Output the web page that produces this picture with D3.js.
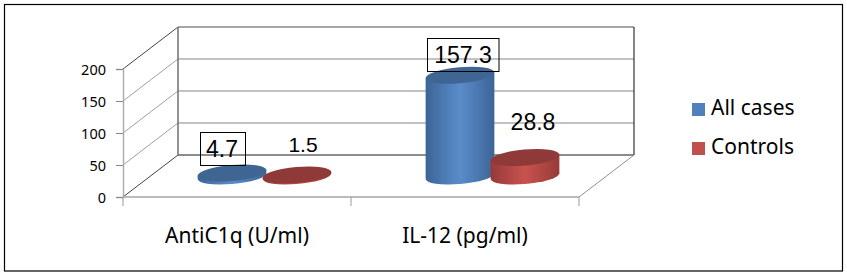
<!DOCTYPE html>
<html>
<head>
<meta charset="utf-8">
<script src="https://cdn.jsdelivr.net/npm/d3@7"></script>
<style>
  html, body { margin: 0; padding: 0; background: #fff; }
  svg { display: block; }
  .tick text { fill: #000; }
</style>
</head>
<body>
<svg id="svg1" width="847" height="275"></svg>
<script>
var categories = ["AntiC1q (U/ml)", "IL-12 (pg/ml)"];
var seriesNames = ["All cases", "Controls"];
var allCases = [4.7, 157.3];
var controls = [1.5, 28.8];
var yTicks = [0, 50, 100, 150, 200];

var values = [allCases, controls];
var sideColor = ["#3c6596", "#973a38"];
var midColor = ["#5a8ccb", "#c9524f"];
var topColor = ["#3f6592", "#8f3a38"];
var legendColor = ["#4f81bd", "#c0504d"];
var textFont = "'Noto Sans', sans-serif";

var svg = d3.select("svg");

// plot box, with the depth of the 3d floor
var left = 123, right = 579, floorY = 197, topY = 69;
var depthX = 55, depthY = 42;

var x = d3.scaleBand().domain(categories).range([left, right]);
var inner = d3.scaleBand().domain(seriesNames).range([-65, 65]);
var y = d3.scaleLinear().domain([0, 200]).range([floorY, topY]);

svg.append("rect")
   .attr("x", 4.5).attr("y", 4.5)
   .attr("width", 838).attr("height", 266.5)
   .attr("fill", "none")
   .attr("stroke", "#000")
   .attr("stroke-width", 1.2);

// back wall gridlines and side wall lines
yTicks.forEach(function(d) {
  var dark = d == 0 || d == 200;
  svg.append("line")
     .attr("x1", left + depthX).attr("y1", y(d) - depthY)
     .attr("x2", right + depthX).attr("y2", y(d) - depthY)
     .attr("stroke", d == 0 ? "#666" : (d == 200 ? "#888" : "#aeaeae"))
     .attr("stroke-width", 1.6);
  svg.append("line")
     .attr("x1", left).attr("y1", y(d))
     .attr("x2", left + depthX).attr("y2", y(d) - depthY)
     .attr("stroke", dark ? "#444" : "#a0a0a0")
     .attr("stroke-width", 1);
});

svg.append("line")
   .attr("x1", left + depthX).attr("y1", y(0) - depthY)
   .attr("x2", left + depthX).attr("y2", y(200) - depthY)
   .attr("stroke", "#777").attr("stroke-width", 1.6);

svg.append("line")
   .attr("x1", right + depthX).attr("y1", y(0) - depthY)
   .attr("x2", right + depthX).attr("y2", y(200) - depthY)
   .attr("stroke", "#333").attr("stroke-width", 1.2);

svg.append("line")
   .attr("x1", right).attr("y1", y(0))
   .attr("x2", right + depthX).attr("y2", y(0) - depthY)
   .attr("stroke", "#909090").attr("stroke-width", 1);

svg.append("line")
   .attr("x1", left).attr("y1", y(0))
   .attr("x2", right).attr("y2", y(0))
   .attr("stroke", "#a6a6a6").attr("stroke-width", 1.4);

// axes
var yAxis = svg.append("g")
   .attr("transform", "translate(" + left + ",0)")
   .call(d3.axisLeft(y).tickValues(yTicks).tickSize(7).tickPadding(10));
yAxis.selectAll("text")
     .attr("font-family", textFont)
     .attr("font-size", 14.5)
     .attr("dy", "0.4em");
yAxis.selectAll("line").attr("stroke", "#888");
yAxis.select(".domain").attr("stroke", "#aaa").attr("stroke-width", 1.4);

var xAxis = svg.append("g")
   .attr("transform", "translate(0," + floorY + ")")
   .call(d3.axisBottom(x).tickSize(0).tickPadding(31));
xAxis.select(".domain").remove();
xAxis.selectAll("text")
     .attr("font-family", textFont)
     .attr("font-size", 21);

x.domain().concat(["end"]).forEach(function(d, i) {
  var px = left + i * x.step();
  svg.append("line")
     .attr("x1", px).attr("y1", floorY)
     .attr("x2", px).attr("y2", floorY + 9)
     .attr("stroke", "#999");
});

// gradients for the cylinder sides
var defs = svg.append("defs");
seriesNames.forEach(function(d, i) {
  var grad = defs.append("linearGradient").attr("id", "side" + i);
  grad.append("stop").attr("offset", "0%").attr("stop-color", sideColor[i]);
  grad.append("stop").attr("offset", "50%").attr("stop-color", midColor[i]);
  grad.append("stop").attr("offset", "100%").attr("stop-color", sideColor[i]);
});

// cylinders
var rx = 34.5, ry = 8, tilt = -5;
var rad = tilt * Math.PI / 180;
var t = Math.atan(-(ry / rx) * Math.tan(rad));
var edgeX = Math.abs(rx * Math.cos(t) * Math.cos(rad) - ry * Math.sin(t) * Math.sin(rad));
var edgeY = Math.abs(rx * Math.cos(t) * Math.sin(rad) + ry * Math.sin(t) * Math.cos(rad));

function centerX(cat, name) {
  return x(cat) + x.bandwidth() / 2 + depthX / 2 + inner(name) + inner.bandwidth() / 2;
}

seriesNames.forEach(function(name, s) {
  categories.forEach(function(cat, c) {
    var cx = centerX(cat, name);
    var baseY = y(0) - depthY / 2;
    var capY = y(values[s][c]) - depthY / 2;

    svg.append("path")
       .attr("d", "M" + (cx - edgeX) + "," + (capY + edgeY) +
                  "L" + (cx - edgeX) + "," + (baseY + edgeY) +
                  "A" + rx + "," + ry + " " + tilt + " 0 0 " + (cx + edgeX) + "," + (baseY - edgeY) +
                  "L" + (cx + edgeX) + "," + (capY - edgeY) + "Z")
       .attr("fill", "url(#side" + s + ")");

    svg.append("ellipse")
       .attr("rx", rx).attr("ry", ry)
       .attr("transform", "translate(" + cx + "," + capY + ") rotate(" + tilt + ")")
       .attr("fill", topColor[s]);
  });
});

// data labels, placed by hand in the original
var labelShift = [[[-10, -16], [3, -12]], [[6, -23], [8, -28]]];
var labelSize = [[23, 23], [21, 23]];
var boxed = [true, false];
var labelG = svg.append("g");
seriesNames.forEach(function(name, s) {
  categories.forEach(function(cat, c) {
    var lx = centerX(cat, name) + labelShift[s][c][0];
    var ly = y(values[s][c]) - depthY / 2 + labelShift[s][c][1];
    if (boxed[s]) {
      var boxW = c == 0 ? 45 : 71.5;
      labelG.append("rect")
            .attr("x", Math.round(lx - boxW / 2) + 0.5).attr("y", Math.round(ly) - 24.5)
            .attr("width", boxW).attr("height", 33)
            .attr("fill", "none").attr("stroke", "#000");
    }
    labelG.append("text")
          .attr("x", lx).attr("y", ly)
          .attr("text-anchor", "middle")
          .attr("font-family", "'Liberation Sans', Arial, sans-serif")
          .attr("font-size", labelSize[s][c])
          .text(values[s][c]);
  });
});

// legend
var legend = svg.selectAll(".legend")
   .data(seriesNames)
   .enter()
   .append("g")
   .attr("class", "legend")
   .attr("transform", function(d, i) { return "translate(692," + (103 + i * 39) + ")"; });

legend.append("rect")
      .attr("width", 13).attr("height", 13)
      .attr("fill", function(d, i) { return legendColor[i]; });

legend.append("text")
      .attr("x", 19).attr("y", 12)
      .attr("font-family", textFont)
      .attr("font-size", 21)
      .text(function(d) { return d; });
</script>
</body>
</html>
